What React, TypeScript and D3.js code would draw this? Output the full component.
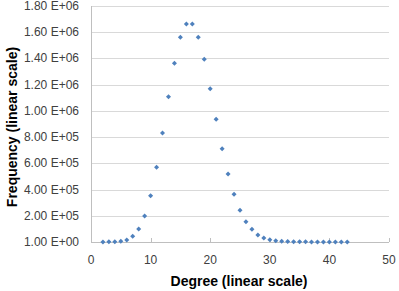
import React, { useEffect, useRef } from 'react';
import * as d3 from 'd3';

// degree values (x) and frequencies (y)
const degrees = [2, 3, 4, 5, 6, 7, 8, 9, 10, 11, 12, 13, 14, 15, 16, 17, 18, 19, 20, 21, 22,
  23, 24, 25, 26, 27, 28, 29, 30, 31, 32, 33, 34, 35, 36, 37, 38, 39, 40, 41, 42, 43];
const frequencies = [500, 1000, 2000, 5000, 15000, 43000, 99000, 198000, 353000, 570000, 831000,
  1108000, 1363000, 1561000, 1663000, 1663000, 1561000, 1393000, 1169000, 936000, 712000,
  519000, 364000, 242000, 155000, 97000, 53000, 30000, 17000, 10000, 5000, 3000, 2000, 1500,
  1000, 800, 600, 500, 400, 300, 200, 100];
const yTicks = [1, 200000, 400000, 600000, 800000, 1000000, 1200000, 1400000, 1600000, 1800000];
const yTickLabels = ['1.00 E+00', '2.00 E+05', '4.00 E+05', '6.00 E+05', '8.00 E+05',
  '1.00 E+06', '1.20 E+06', '1.40 E+06', '1.60 E+06', '1.80 E+06'];
const xTicks = [0, 10, 20, 30, 40, 50];

const App = () => {
  const svgRef = useRef<SVGSVGElement>(null);

  useEffect(() => {
    const svg = d3.select(svgRef.current);
    svg.selectAll('*').remove();

    const left = 91, right = 389, top = 6, bottom = 242;
    const x = d3.scaleLinear().domain([0, 50]).range([left, right]);
    const y = d3.scaleLinear().domain([0, 1800000]).range([bottom, top]);
    const font = '"Liberation Sans", Arial, sans-serif';

    // gridlines
    svg.append('g')
      .selectAll('line')
      .data(yTicks.slice(1))
      .enter()
      .append('line')
      .attr('x1', left).attr('x2', right)
      .attr('y1', d => Math.round(y(d)) + 0.5).attr('y2', d => Math.round(y(d)) + 0.5)
      .attr('stroke', '#d9d9d9')
      .attr('stroke-width', 1);

    // axes lines
    svg.append('line')
      .attr('x1', left + 0.5).attr('x2', left + 0.5)
      .attr('y1', top).attr('y2', bottom)
      .attr('stroke', '#bfbfbf');
    svg.append('line')
      .attr('x1', left).attr('x2', right)
      .attr('y1', bottom + 0.5).attr('y2', bottom + 0.5)
      .attr('stroke', '#bfbfbf');

    // x ticks
    svg.append('g')
      .selectAll('line')
      .data(xTicks)
      .enter()
      .append('line')
      .attr('x1', d => Math.round(x(d)) + 0.5).attr('x2', d => Math.round(x(d)) + 0.5)
      .attr('y1', bottom - 4).attr('y2', bottom)
      .attr('stroke', '#bfbfbf');

    // y tick labels
    svg.append('g')
      .selectAll('text')
      .data(yTicks)
      .enter()
      .append('text')
      .attr('x', 79)
      .attr('y', d => y(d) + 4)
      .attr('text-anchor', 'end')
      .style('font-family', font)
      .style('font-size', '12px')
      .style('fill', '#404040')
      .text((d, i) => yTickLabels[i]);

    // x tick labels
    svg.append('g')
      .selectAll('text')
      .data(xTicks)
      .enter()
      .append('text')
      .attr('x', d => x(d))
      .attr('y', 264)
      .attr('text-anchor', 'middle')
      .style('font-family', font)
      .style('font-size', '12px')
      .style('fill', '#404040')
      .text(d => d);

    // points
    const symbol = d3.symbol().type(d3.symbolDiamond2).size(16);
    svg.append('g')
      .selectAll('path')
      .data(degrees)
      .enter()
      .append('path')
      .attr('d', symbol)
      .attr('transform', (d, i) => `translate(${x(d)},${y(frequencies[i])})`)
      .attr('fill', '#4f81bd');

    // axis titles
    svg.append('text')
      .attr('transform', 'translate(17,127) rotate(-90)')
      .attr('text-anchor', 'middle')
      .style('font-family', font)
      .style('font-size', '14px')
      .style('font-weight', 'bold')
      .style('fill', '#000')
      .text('Frequency (linear scale)');

    svg.append('text')
      .attr('x', 239)
      .attr('y', 286)
      .attr('text-anchor', 'middle')
      .style('font-family', font)
      .style('font-size', '14px')
      .style('font-weight', 'bold')
      .style('fill', '#000')
      .text('Degree (linear scale)');
  }, []);

  return (
    <svg ref={svgRef} width={399} height={291}
      style={{ position: 'absolute', left: 0, top: 0, background: '#fff' }}></svg>
  );
};

export default App;
